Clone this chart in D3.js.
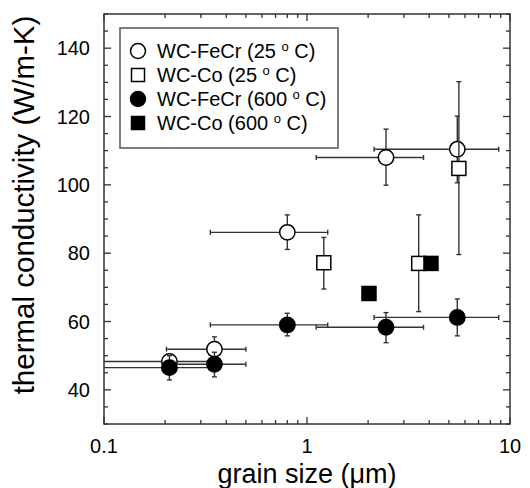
<!DOCTYPE html>
<html>
<head>
<meta charset="utf-8">
<script src="https://cdn.jsdelivr.net/npm/d3@7"></script>
<style>
  body { margin: 0; background: #fff; }
  text { font-family: "Liberation Sans", Arial, sans-serif; fill: #000; }
</style>
</head>
<body>
<div id="chart"></div>
<script>
// series names and legend labels
const seriesNames = ["WC-FeCr (25", "WC-Co (25", "WC-FeCr (600", "WC-Co (600"];

// WC-FeCr 25 C (open circles)
const feCr25_x = [0.21, 0.35, 0.8, 2.45, 5.5];
const feCr25_y = [48.3, 51.9, 86.1, 108.0, 110.4];
const feCr25_xlo = [0.05, 0.203, 0.334, 1.11, 2.14];
const feCr25_xhi = [0.34, 0.5, 1.265, 3.75, 8.8];
const feCr25_ylo = [46.8, 48.4, 81.1, 99.9, 100.6];
const feCr25_yhi = [50.0, 55.5, 91.2, 116.3, 120.1];

// WC-Co 25 C (open squares)
const co25_x = [1.21, 3.55, 5.6];
const co25_y = [77.2, 77.0, 104.8];
const co25_ylo = [69.5, 62.9, 79.6];
const co25_yhi = [84.6, 91.2, 130.2];

// WC-FeCr 600 C (filled circles)
const feCr600_x = [0.21, 0.35, 0.8, 2.45, 5.5];
const feCr600_y = [46.5, 47.5, 59.0, 58.3, 61.2];
const feCr600_xlo = [0.05, 0.203, 0.334, 1.11, 2.14];
const feCr600_xhi = [0.34, 0.5, 1.265, 3.75, 8.8];
const feCr600_ylo = [42.9, 43.8, 55.8, 53.8, 55.8];
const feCr600_yhi = [50.0, 51.0, 62.4, 62.6, 66.6];

// WC-Co 600 C (filled squares)
const co600_x = [2.02, 4.08];
const co600_y = [68.2, 77.0];

// axis ticks
const xTicks = [0.1, 1, 10];
const yTicks = [40, 60, 80, 100, 120, 140];

const W = 530, H = 488;
const margin = {top: 14, right: 20, bottom: 64, left: 104};

const svg = d3.select("#chart").append("svg")
  .attr("width", W).attr("height", H);

const x = d3.scaleLog().domain([0.1, 10]).range([margin.left, W - margin.right]);
const y = d3.scaleLinear().domain([30, 150]).range([H - margin.bottom, margin.top]);

svg.append("clipPath").attr("id", "clip")
  .append("rect")
  .attr("x", margin.left).attr("y", margin.top)
  .attr("width", W - margin.left - margin.right)
  .attr("height", H - margin.top - margin.bottom);

// minor ticks
const xMinor = [];
[0.1, 1].forEach(d => { for (let k = 1; k <= 9; k++) xMinor.push(d * k); });
xMinor.push(10);
const yMinor = d3.range(30, 151, 5);

const axisG = svg.append("g");
const x0 = margin.left, x1 = W - margin.right, y0 = H - margin.bottom, y1 = margin.top;

function tickLen(isMajor) { return isMajor ? 7 : 4; }

xMinor.forEach(v => {
  const major = xTicks.some(t => Math.abs(t - v) < 1e-9);
  const px = x(v), L = tickLen(major);
  axisG.append("line").attr("x1", px).attr("x2", px).attr("y1", y0).attr("y2", y0 - L);
  axisG.append("line").attr("x1", px).attr("x2", px).attr("y1", y1).attr("y2", y1 + L);
});
yMinor.forEach(v => {
  const major = yTicks.includes(v);
  const py = y(v), L = tickLen(major);
  axisG.append("line").attr("x1", x0).attr("x2", x0 + L).attr("y1", py).attr("y2", py);
  axisG.append("line").attr("x1", x1).attr("x2", x1 - L).attr("y1", py).attr("y2", py);
});
axisG.selectAll("line").attr("stroke", "#333").attr("stroke-width", 1.3);

axisG.append("rect")
  .attr("x", x0).attr("y", y1).attr("width", x1 - x0).attr("height", y0 - y1)
  .attr("fill", "none").attr("stroke", "#333").attr("stroke-width", 1.5);

// tick labels
svg.selectAll(".xl").data(xTicks).join("text")
  .attr("x", d => x(d)).attr("y", 453)
  .attr("text-anchor", "middle").style("font-size", "20px")
  .text(d => d3.format("")(d));
svg.selectAll(".yl").data(yTicks).join("text")
  .attr("x", 90).attr("y", d => y(d) + 7)
  .attr("text-anchor", "end").style("font-size", "20px")
  .text(d => d);

// axis titles
svg.append("text")
  .attr("x", (x0 + x1) / 2).attr("y", 483)
  .attr("text-anchor", "middle").style("font-size", "27px")
  .text("grain size (\u03bcm)");
svg.append("text")
  .attr("transform", `translate(34,${(y0 + y1) / 2 - 14}) rotate(-90)`)
  .attr("text-anchor", "middle").style("font-size", "29.5px")
  .text("thermal conductivity (W/m-K)");

const plot = svg.append("g");

function hbar(g, xs, ys, lo, hi) {
  xs.forEach((v, i) => {
    const py = y(ys[i]);
    g.append("line").attr("x1", x(lo[i])).attr("x2", x(hi[i])).attr("y1", py).attr("y2", py);
    [lo[i], hi[i]].forEach(e => {
      g.append("line").attr("x1", x(e)).attr("x2", x(e)).attr("y1", py - 2.5).attr("y2", py + 2.5);
    });
  });
}
function vbar(g, xs, lo, hi) {
  xs.forEach((v, i) => {
    const px = x(v);
    g.append("line").attr("x1", px).attr("x2", px).attr("y1", y(lo[i])).attr("y2", y(hi[i]));
    [lo[i], hi[i]].forEach(e => {
      g.append("line").attr("x1", px - 2.5).attr("x2", px + 2.5).attr("y1", y(e)).attr("y2", y(e));
    });
  });
}

function circles(g, xs, ys, fill) {
  g.selectAll(null).data(xs).join("circle")
    .attr("cx", d => x(d)).attr("cy", (d, i) => y(ys[i])).attr("r", 7.7)
    .attr("fill", fill).attr("stroke", "#000").attr("stroke-width", 1.5);
}
function squares(g, xs, ys, fill) {
  const s = 14;
  g.selectAll(null).data(xs).join("rect")
    .attr("x", d => x(d) - s / 2).attr("y", (d, i) => y(ys[i]) - s / 2)
    .attr("width", s).attr("height", s)
    .attr("fill", fill).attr("stroke", "#000").attr("stroke-width", 1.5);
}

// WC-FeCr 25
const g1 = plot.append("g");
const b1 = g1.append("g").attr("clip-path", "url(#clip)").attr("stroke", "#333").attr("stroke-width", 1.4);
hbar(b1, feCr25_x, feCr25_y, feCr25_xlo, feCr25_xhi);
vbar(b1, feCr25_x, feCr25_ylo, feCr25_yhi);
circles(g1, feCr25_x, feCr25_y, "#fff");

// WC-Co 25
const g2 = plot.append("g");
const b2 = g2.append("g").attr("stroke", "#333").attr("stroke-width", 1.4);
vbar(b2, co25_x, co25_ylo, co25_yhi);
squares(g2, co25_x, co25_y, "#fff");

// WC-FeCr 600
const g3 = plot.append("g");
const b3 = g3.append("g").attr("clip-path", "url(#clip)").attr("stroke", "#333").attr("stroke-width", 1.4);
hbar(b3, feCr600_x, feCr600_y, feCr600_xlo, feCr600_xhi);
vbar(b3, feCr600_x, feCr600_ylo, feCr600_yhi);
circles(g3, feCr600_x, feCr600_y, "#000");

// WC-Co 600
const g4 = plot.append("g");
squares(g4, co600_x, co600_y, "#000");

// legend
const leg = svg.append("g");
leg.append("rect").attr("x", 120).attr("y", 28).attr("width", 218).attr("height", 120)
  .attr("fill", "#fff").attr("stroke", "#555").attr("stroke-width", 1.5);
const rowY = [51, 75, 99, 123];
const symType = ["c", "s", "c", "s"];
const symFill = ["#fff", "#fff", "#000", "#000"];
seriesNames.forEach((name, i) => {
  const cy = rowY[i];
  if (symType[i] === "c") {
    leg.append("circle").attr("cx", 138).attr("cy", cy).attr("r", 7.5)
      .attr("fill", symFill[i]).attr("stroke", "#000").attr("stroke-width", 1.5);
  } else {
    leg.append("rect").attr("x", 138 - 6.5).attr("y", cy - 6.5).attr("width", 13).attr("height", 13)
      .attr("fill", symFill[i]).attr("stroke", "#000").attr("stroke-width", 1.5);
  }
  const t = leg.append("text").attr("x", 157).attr("y", cy + 7).style("font-size", "20px");
  t.append("tspan").text(name + " ");
  t.append("tspan").attr("dy", -7).style("font-size", "13px").text("o");
  t.append("tspan").attr("dy", 7).text(" C)");
});
</script>
</body>
</html>
